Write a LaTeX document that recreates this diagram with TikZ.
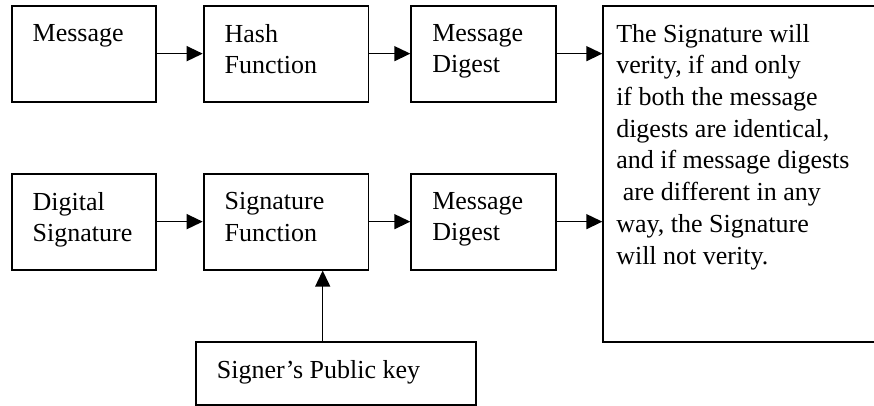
\documentclass[tikz,border=0pt]{standalone}
\usepackage{fontspec}
\setmainfont{Liberation Serif}
\usepackage{tikz}
\usetikzlibrary{arrows.meta}
\def\blocktext#1#2#3{\parbox[t][#2pt][t]{#1pt}{\raggedright #3}}
\tikzset{
  blk/.style={draw, line width=1.9pt, anchor=north west, inner xsep=21pt, inner ysep=18.5pt,
    font=\fontsize{26pt}{31.7pt}\selectfont},
  arr/.style={line width=1.4pt, -{Triangle[length=16pt,width=15pt]}}
}

\begin{document}
\begin{tikzpicture}[x=1pt,y=-1pt]
\useasboundingbox (0,0) rectangle (874,406);
\node[blk] (msg) at (10.7,4.7) {\blocktext{102.3}{59}{Message}};
\node[blk] (hash) at (202.7,4.7) {\blocktext{122.8}{59}{Hash\\Function}};
\node[blk] (digtop) at (410.3,4.7) {\blocktext{102.7}{59}{Message\\Digest}};
\node[blk, inner xsep=13pt] (verify) at (602.3,4.7) {\blocktext{254}{299.3}{The Signature will\\
verity, if and only\\
if both the message\\
digests are identical,\\
and if message digests\\
\ are different in any\\
way, the Signature\\
will not verity.}};
\node[blk] (dsig) at (10.7,172.7) {\blocktext{102.3}{59}{Digital\\Signature}};
\node[blk] (sigfn) at (202.7,172.7) {\blocktext{122.8}{59}{Signature\\Function}};
\node[blk] (digbot) at (410.3,172.7) {\blocktext{102.7}{59}{Message\\Digest}};
\node[blk] (key) at (195,340.7) {\blocktext{238}{26.7}{Signer’s Public key}};
\coordinate (keyup) at (322.7,340.7);
\draw[arr] (msg) -- (hash);
\draw[arr] (hash) -- (digtop);
\draw[arr] (digtop.east) -- (digtop.east -| verify.west);
\draw[arr] (dsig) -- (sigfn);
\draw[arr] (sigfn) -- (digbot);
\draw[arr] (digbot.east) -- (digbot.east -| verify.west);
\draw[arr] (keyup) -- (keyup |- sigfn.south);
\end{tikzpicture}
\end{document}
